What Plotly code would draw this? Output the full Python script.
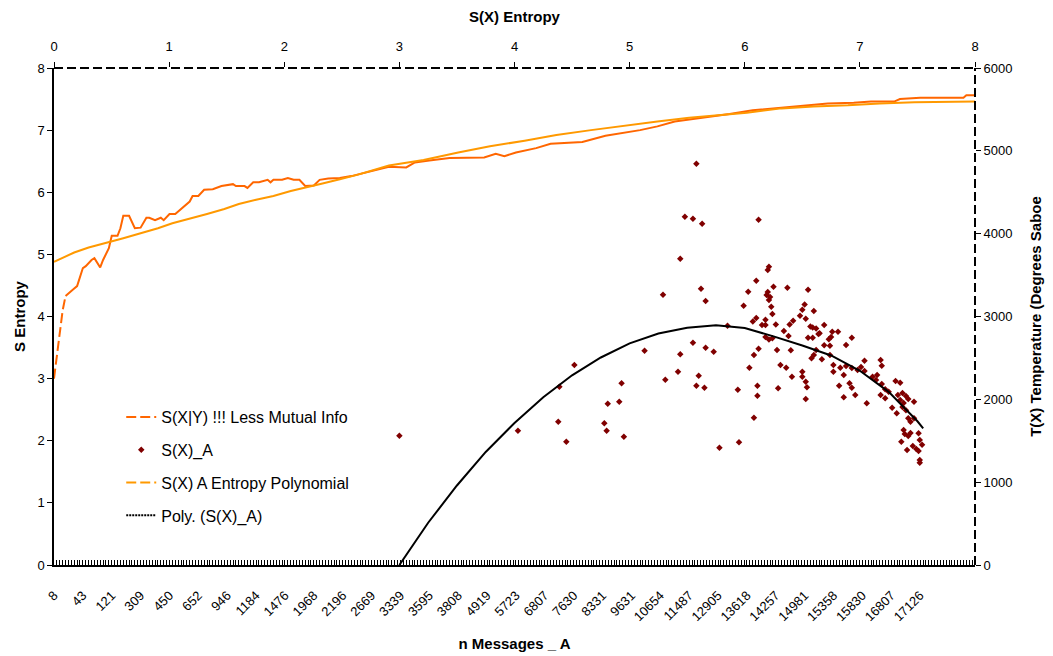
import plotly.graph_objects as go

# ---------------- data ----------------
cat_labels = ["8", "43", "121", "309", "450", "652", "946", "1184", "1476", "1968", "2196",
              "2669", "3339", "3595", "3808", "4919", "5723", "6807", "7630", "8331", "9631",
              "10654", "11487", "12905", "13618", "14257", "14981", "15358", "15830", "16807", "17126"]
label_pos = [i * 10 for i in range(len(cat_labels))]
n_categories = 320

# S(X|Y) !!! Less Mutual Info  (category index, S entropy)
sxy_idx = [0, 3, 4, 6, 7, 8, 10, 11, 13, 14, 16, 17, 19, 20, 22, 23, 24, 26, 28, 30,
           32, 33, 35, 37, 38, 40, 42, 47, 48, 50, 52, 55, 58, 62, 63, 66, 67, 69, 71, 74,
           75, 76, 79, 81, 83, 85, 87, 90, 92, 95, 99, 103, 108, 116, 122, 125, 130, 135, 137, 149,
           153, 156, 160, 167, 172, 183, 191, 203, 209, 215, 220, 228, 234, 242, 249, 258, 268, 277, 283, 291,
           293, 300, 315, 316, 319]
sxy_val = [3.00, 4.10, 4.33, 4.40, 4.45, 4.49, 4.78, 4.81, 4.91, 4.94, 4.79, 4.91, 5.10, 5.30, 5.30, 5.42, 5.62, 5.62, 5.42, 5.43,
           5.59, 5.59, 5.55, 5.59, 5.55, 5.65, 5.65, 5.85, 5.94, 5.94, 6.04, 6.05, 6.10, 6.13, 6.10, 6.10, 6.07, 6.16, 6.16, 6.20,
           6.16, 6.20, 6.20, 6.23, 6.20, 6.20, 6.10, 6.11, 6.20, 6.22, 6.23, 6.26, 6.32, 6.41, 6.40, 6.48, 6.51, 6.53, 6.55, 6.56,
           6.62, 6.58, 6.64, 6.71, 6.78, 6.81, 6.91, 7.00, 7.06, 7.14, 7.17, 7.22, 7.26, 7.32, 7.35, 7.39, 7.43, 7.44, 7.46, 7.46,
           7.50, 7.52, 7.52, 7.56, 7.56]

# S(X) A Entropy Polynomial
poly_idx = [0, 7, 12, 18, 24, 30, 36, 41, 47, 53, 59, 64, 70, 76, 82, 88, 93, 99, 105, 116,
            128, 140, 151, 163, 174, 186, 197, 209, 220, 228, 240, 252, 263, 275, 286, 298, 319]
poly_val = [4.88, 5.03, 5.11, 5.18, 5.26, 5.34, 5.42, 5.50, 5.57, 5.65, 5.73, 5.81, 5.88, 5.94, 6.02, 6.08, 6.14, 6.21, 6.28, 6.43,
            6.52, 6.64, 6.74, 6.83, 6.92, 7.00, 7.07, 7.14, 7.20, 7.23, 7.28, 7.35, 7.38, 7.40, 7.43, 7.45, 7.46]

# S(X)_A scatter: S(X) entropy (top axis) vs temperature (right axis)
sa_x = [3.00, 4.03, 4.38, 4.45, 4.52, 4.39, 4.81, 4.78, 4.80, 4.91,
        4.93, 4.95, 5.13, 5.31, 5.42, 5.44, 5.55, 5.58, 5.60, 5.65,
        5.66, 5.73, 5.78, 5.66, 5.85, 5.58, 5.48, 5.55, 5.63, 6.12,
        5.44, 5.29, 5.62, 6.21, 6.20, 6.10, 6.03, 5.99, 6.25, 6.20,
        6.19, 6.22, 6.21, 6.37, 6.55, 6.23, 6.24, 6.52, 6.50, 6.60,
        6.48, 6.07, 6.10, 6.18, 6.15, 6.18, 6.27, 6.42, 6.39, 6.53,
        6.57, 6.59, 6.62, 6.69, 6.34, 6.76, 6.81, 6.65, 6.93, 6.18,
        6.21, 6.24, 6.38, 6.55, 6.59, 6.75, 6.04, 6.08, 6.12, 6.28,
        6.40, 6.31, 6.36, 6.41, 6.50, 6.50, 6.53, 6.54, 6.53, 6.29,
        6.11, 6.11, 6.08, 5.95, 5.94, 6.60, 6.62, 6.58, 6.67, 6.64,
        6.69, 6.74, 6.88, 6.73, 6.74, 6.77, 6.77, 6.82, 6.86, 6.91,
        6.93, 6.96, 6.86, 6.83, 6.88, 6.93, 6.98, 7.01, 7.04, 7.04,
        7.06, 7.11, 7.15, 7.18, 7.19, 7.14, 7.19, 7.22, 7.18, 7.22,
        7.25, 7.31, 7.35, 7.33, 7.37, 7.40, 7.35, 7.38, 7.42, 7.37,
        7.28, 7.32, 7.47, 7.40, 7.42, 7.44, 7.47, 7.38, 7.39, 7.42,
        7.44, 7.51, 7.52, 7.36, 7.41, 7.46, 7.49, 7.51, 7.54, 7.52,
        7.52]
sa_y = [1561, 1621, 1730, 1488, 2414, 2152, 1947, 1711, 1621, 1971,
        2193, 1549, 2587, 2237, 2334, 2544, 2684, 2165, 2285, 2140,
        2623, 2575, 1416, 3187, 2889, 4845, 4205, 4181, 4120, 4168,
        3698, 3263, 3336, 3601, 3561, 3432, 3299, 3130, 3360, 3296,
        3259, 3235, 3199, 3348, 3323, 3118, 3030, 3145, 3081, 3066,
        3010, 2940, 2982, 2961, 2897, 2897, 2903, 2948, 2903, 2972,
        2879, 2867, 2855, 2897, 2825, 2816, 2816, 2797, 2744, 2752,
        2722, 2737, 2764, 2744, 2744, 2752, 2382, 2535, 2611, 2595,
        2592, 2414, 2382, 2273, 2334, 2273, 2213, 2145, 2004, 2133,
        2165, 2044, 1778, 1481, 2116, 2535, 2595, 2495, 2483, 2789,
        2652, 2647, 2656, 2725, 2535, 2414, 2334, 2165, 2024, 2193,
        2140, 2052, 2294, 2382, 2402, 2378, 2354, 2390, 2342, 2466,
        1952, 2273, 2294, 2475, 2406, 2233, 2185, 2121, 2052, 2012,
        2092, 2221, 2201, 2052, 2076, 2040, 1992, 1956, 2004, 1907,
        1899, 1831, 1971, 1868, 1771, 1730, 1771, 1630, 1581, 1557,
        1593, 1590, 1509, 1488, 1388, 1437, 1400, 1376, 1452, 1268,
        1235]

# Poly. (S(X)_A) trendline
trend_x = [3.0, 3.25, 3.5, 3.75, 4.0, 4.25, 4.5, 4.75, 5.0, 5.25,
           5.5, 5.75, 6.0, 6.25, 6.5, 6.75, 7.0, 7.25, 7.5, 7.55]
trend_y = [0, 510, 960, 1365, 1715, 2025, 2290, 2505, 2675, 2795,
           2865, 2895, 2860, 2760, 2650, 2530, 2345, 2090, 1735, 1650]

# ---------------- style ----------------
C_SXY = "#FF6600"
C_POLY = "#FF9900"
C_SCAT = "#800000"
FONT = "Arial, Liberation Sans, sans-serif"

fig = go.Figure()

# S(X|Y): steep dashed start + solid remainder
fig.add_trace(go.Scatter(x=sxy_idx[:3], y=sxy_val[:3], mode="lines",
                         line=dict(color=C_SXY, width=2, dash="10px,4px"),
                         name="S(X|Y) !!! Less Mutual Info", legendgroup="a",
                         xaxis="x", yaxis="y", hoverinfo="skip"))
fig.add_trace(go.Scatter(x=sxy_idx[2:], y=sxy_val[2:], mode="lines",
                         line=dict(color=C_SXY, width=2),
                         name="S(X|Y) !!! Less Mutual Info", legendgroup="a", showlegend=False,
                         xaxis="x", yaxis="y"))

# S(X) A Entropy Polynomial
fig.add_trace(go.Scatter(x=poly_idx, y=poly_val, mode="lines",
                         line=dict(color=C_POLY, width=2),
                         name="S(X) A Entropy Polynomial", legendgroup="c", showlegend=False,
                         xaxis="x", yaxis="y"))

# scatter
fig.add_trace(go.Scatter(x=sa_x, y=sa_y, mode="markers",
                         marker=dict(symbol="diamond", size=5, color=C_SCAT),
                         name="S(X)_A", legendgroup="b",
                         xaxis="x2", yaxis="y2"))
# trendline
fig.add_trace(go.Scatter(x=trend_x, y=trend_y, mode="lines",
                         line=dict(color="black", width=2),
                         name="Poly. (S(X)_A)", legendgroup="d", showlegend=False,
                         xaxis="x2", yaxis="y2"))

# legend-only samples (dashed / dotted as in the original key)
fig.add_trace(go.Scatter(x=[None], y=[None], mode="lines",
                         line=dict(color=C_POLY, width=2, dash="10px,4px"),
                         name="S(X) A Entropy Polynomial", legendgroup="c",
                         xaxis="x", yaxis="y"))
fig.add_trace(go.Scatter(x=[None], y=[None], mode="lines",
                         line=dict(color="black", width=2, dash="2px,1px"),
                         name="Poly. (S(X)_A)", legendgroup="d",
                         xaxis="x2", yaxis="y2"))

axis_font = dict(family=FONT, size=13, color="black")
title_font = dict(family=FONT, size=15, color="black")

fig.update_layout(
    width=1053, height=656,
    margin=dict(l=46, r=86, t=60, b=99),
    paper_bgcolor="white", plot_bgcolor="white",
    font=dict(family=FONT, size=13, color="black"),
    showlegend=True,
    legend=dict(x=0.073, y=0.332, xanchor="left", yanchor="top",
                bgcolor="rgba(0,0,0,0)", font=dict(family=FONT, size=16, color="black"),
                tracegroupgap=9, traceorder="grouped"),
    xaxis=dict(range=[0, n_categories - 1], tickmode="array", tickvals=label_pos, ticktext=cat_labels,
               tickangle=-45, ticks="inside", ticklen=5, tickcolor="black", tickwidth=1,
               minor=dict(ticks="inside", tickmode="linear", tick0=0, dtick=1, ticklen=5,
                          tickcolor="black", tickwidth=1),
               showline=True, linecolor="black", linewidth=1.5, showgrid=False, zeroline=False,
               tickfont=dict(family=FONT, size=13, color="black"), ticklabelstandoff=16,
               automargin=False,
               title=dict(text="<b>n Messages _ A</b>", font=title_font, standoff=15)),
    yaxis=dict(range=[0, 8], dtick=1, ticks="outside", ticklen=5, tickcolor="black",
               showline=True, linecolor="black", linewidth=1.5, showgrid=False, zeroline=False,
               tickfont=axis_font, automargin=False,
               title=dict(text="<b>S Entropy</b>", font=title_font, standoff=8)),
    xaxis2=dict(overlaying="x", side="top", anchor="y", range=[0, 8], dtick=1,
                ticks="outside", ticklen=5, tickcolor="black",
                showline=False, showgrid=False, zeroline=False, tickfont=axis_font,
                ticklabelstandoff=6, automargin=False,
                title=dict(text="<b>S(X) Entropy</b>", font=title_font, standoff=12)),
    yaxis2=dict(overlaying="y", side="right", anchor="x", range=[0, 6000], dtick=1000,
                ticks="outside", ticklen=5, tickcolor="black",
                showline=False, showgrid=False, zeroline=False, tickfont=axis_font,
                automargin=False,
                title=dict(text="<b>T(X) Temperature (Degrees Saboe</b>", font=title_font, standoff=18)),
    shapes=[
        dict(type="line", xref="paper", yref="paper", x0=0, x1=1, y0=1, y1=1,
             line=dict(color="black", width=2, dash="9px,4px")),
        dict(type="line", xref="paper", yref="paper", x0=1, x1=1, y0=0, y1=1,
             line=dict(color="black", width=2, dash="9px,4px")),
    ],
)

fig.write_html("out.html")
